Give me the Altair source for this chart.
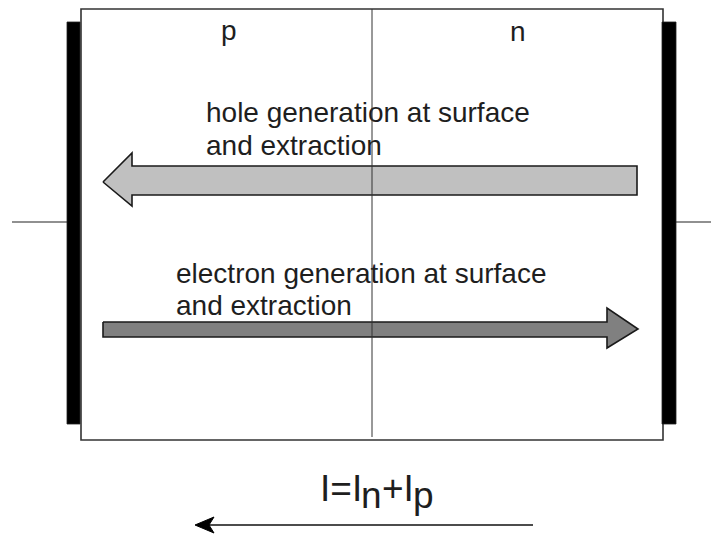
import altair as alt
import pandas as pd

# ---- diagram geometry (screen-like units) ----
box_x1 = [81]
box_x2 = [663]
box_y1 = [9]
box_y2 = [440]

electrode_x1 = [67, 662]
electrode_x2 = [80, 676]
electrode_y1 = [22, 22]
electrode_y2 = [424, 424]

wire_x1 = [12, 676]
wire_x2 = [67, 711]
wire_y = [222, 222]

junction_x = [372]
junction_y1 = [9]
junction_y2 = [437]

# arrow outlines (closed polygons)
hole_arrow_x = [103, 132, 132, 637, 637, 132, 132, 103]
hole_arrow_y = [182, 153, 166, 166, 195, 195, 206, 182]

elec_arrow_x = [103, 607, 607, 638, 607, 607, 103, 103]
elec_arrow_y = [322, 322, 308, 329, 348, 337, 337, 322]

current_line_x1 = [205]
current_line_x2 = [533]
current_line_y = [525]
current_head_x = [195, 214, 209, 214, 195]
current_head_y = [525, 517, 525, 533, 525]

label_text = ["p", "n", "hole generation at surface", "and extraction",
              "electron generation at surface", "and extraction"]
label_x = [221, 510, 206, 206, 176, 176]
label_y = [40, 41, 122, 155, 283, 315]

formula_text = ["I=I", "n", "+I", "p"]
formula_x = [320, 361, 382, 413]
formula_y = [501, 508, 501, 508]

# ---- scales ----
XS = alt.Scale(domain=[8, 711], nice=False, zero=False)
YS = alt.Scale(domain=[8, 534], nice=False, zero=False, reverse=True)


def X(f):
    return alt.X(f"{f}:Q", scale=XS, axis=None)


def Y(f):
    return alt.Y(f"{f}:Q", scale=YS, axis=None)


def polygon(xs, ys, fill, stroke="#1a1a1a", sw=1.6):
    df = pd.DataFrame({"i": list(range(len(xs))), "x": xs, "y": ys})
    return alt.Chart(df).mark_line(
        fill=fill, stroke=stroke, strokeWidth=sw, strokeJoin="miter", interpolate="linear"
    ).encode(x=X("x"), y=Y("y"), order=alt.Order("i:Q"))


box = alt.Chart(pd.DataFrame({"x1": box_x1, "x2": box_x2, "y1": box_y1, "y2": box_y2})).mark_rect(
    fill="white", stroke="#333333", strokeWidth=1.6
).encode(x=X("x1"), x2=alt.X2("x2:Q"), y=Y("y1"), y2=alt.Y2("y2:Q"))

electrodes = alt.Chart(pd.DataFrame({"x1": electrode_x1, "x2": electrode_x2,
                                     "y1": electrode_y1, "y2": electrode_y2})).mark_rect(
    fill="black", stroke="#222222", strokeWidth=0.8
).encode(x=X("x1"), x2=alt.X2("x2:Q"), y=Y("y1"), y2=alt.Y2("y2:Q"))

wires = alt.Chart(pd.DataFrame({"x1": wire_x1, "x2": wire_x2, "y": wire_y})).mark_rule(
    color="#222222", strokeWidth=1.2
).encode(x=X("x1"), x2=alt.X2("x2:Q"), y=Y("y"))

junction = alt.Chart(pd.DataFrame({"x": junction_x, "y1": junction_y1, "y2": junction_y2})).mark_rule(
    color="#333333", strokeWidth=1
).encode(x=X("x"), y=Y("y1"), y2=alt.Y2("y2:Q"))

hole_arrow = polygon(hole_arrow_x, hole_arrow_y, "#C0C0C0")
elec_arrow = polygon(elec_arrow_x, elec_arrow_y, "#808080")

current_line = alt.Chart(pd.DataFrame({"x1": current_line_x1, "x2": current_line_x2,
                                       "y": current_line_y})).mark_rule(
    color="#111111", strokeWidth=1.6
).encode(x=X("x1"), x2=alt.X2("x2:Q"), y=Y("y"))
current_head = polygon(current_head_x, current_head_y, "#000000", "#000000", 1)

labels = alt.Chart(pd.DataFrame({"t": label_text, "x": label_x, "y": label_y})).mark_text(
    align="left", baseline="alphabetic", font="Liberation Sans", fontSize=28, color="#1e1e1e"
).encode(x=X("x"), y=Y("y"), text="t:N")

formula = alt.Chart(pd.DataFrame({"t": formula_text, "x": formula_x, "y": formula_y})).mark_text(
    align="left", baseline="alphabetic", font="Liberation Sans", fontSize=37, color="#1e1e1e"
).encode(x=X("x"), y=Y("y"), text="t:N")

chart = alt.layer(
    box, wires, electrodes, hole_arrow, elec_arrow, labels, junction,
    current_line, current_head, formula
).properties(
    width=703, height=526, padding=0, autosize=alt.AutoSizeParams(type="none")
).configure_view(stroke=None)

chart.save("out.html", embed_options={"renderer": "svg", "actions": False})
